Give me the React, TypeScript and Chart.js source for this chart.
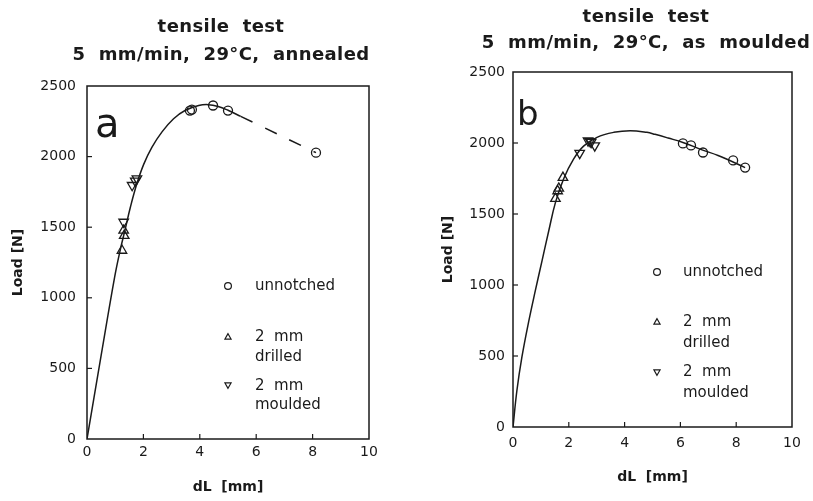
import React, { useEffect, useRef } from 'react';
import { Chart, registerables } from 'chart.js';

Chart.register(...registerables);

const FONT = "'DejaVu Sans', sans-serif";
const INK = '#1a1a1a';

// shared axes
const xTickValues = [0, 2, 4, 6, 8, 10];
const yTickValues = [0, 500, 1000, 1500, 2000, 2500];
const xAxisTitle = 'dL  [mm]';
const yAxisTitle = 'Load [N]';
const legendLabels = [['unnotched'], ['2  mm', 'drilled'], ['2  mm', 'moulded']];

// panel a: annealed
const titleA = ['tensile  test', '5  mm/min,  29°C,  annealed'];
const curveA: [number, number][] = [
  [0, 0], [0.5, 590], [0.98, 1147], [1.18, 1340], [1.36, 1490], [1.54, 1643], [1.77, 1809],
  [2.01, 1945], [2.3, 2065], [2.66, 2175], [3.07, 2268], [3.49, 2328], [3.96, 2362],
  [4.3, 2368], [4.65, 2355], [5.0, 2328], [5.45, 2285], [8.12, 2028],
];
const unnotchedA: [number, number][] = [[3.65, 2326], [3.72, 2333], [4.47, 2362], [5.0, 2326], [8.12, 2028]];
const drilledA: [number, number][] = [[1.24, 1335], [1.3, 1477], [1.32, 1440]];
const mouldedA: [number, number][] = [[1.3, 1537], [1.6, 1797], [1.71, 1828], [1.77, 1844]];

// panel b: as moulded
const titleB = ['tensile  test', '5  mm/min,  29°C,  as  moulded'];
const curveB: [number, number][] = [
  [0, 0], [0.14, 257], [0.32, 493], [0.56, 740], [0.8, 960], [1.04, 1170], [1.28, 1380],
  [1.52, 1580], [1.82, 1750], [2.17, 1886], [2.53, 1978], [3.01, 2040], [3.61, 2075],
  [4.2, 2087], [4.8, 2075], [5.09, 2061], [5.56, 2035], [6.09, 2004], [6.8, 1950],
  [7.35, 1912], [8.32, 1827],
];
const unnotchedB: [number, number][] = [[6.09, 1997], [6.38, 1983], [6.81, 1933], [7.89, 1877], [8.32, 1827]];
const drilledB: [number, number][] = [[1.52, 1608], [1.6, 1662], [1.64, 1680], [1.79, 1756]];
const mouldedB: [number, number][] = [[2.39, 1929], [2.69, 2016], [2.76, 2012], [2.8, 2006], [2.93, 1981]];

type Panel = {
  left: number;
  width: number;
  letter: string;
  letterX: number;
  letterY: number;
  letterSize: number;
  title: string[];
  titleX: number;
  titleY: number[];
  padding: { top: number; right: number; bottom: number; left: number };
  yWidth: number;
  xHeight: number;
  yTickPad: number;
  xTickPad: number;
  xTitlePad: number;
  curve: [number, number][];
  dashFrom: number | null;
  unnotched: [number, number][];
  drilled: [number, number][];
  moulded: [number, number][];
  legSymX: number;
  legTextX: number;
  legSymY: number[];
  legTextY: number[][];
};

const panelA: Panel = {
  left: 0, width: 410, letter: 'a', letterX: 95, letterY: 137, letterSize: 40,
  title: titleA, titleX: 221, titleY: [27, 55],
  padding: { top: 86, right: 41, bottom: 0, left: 0 },
  yWidth: 87, xHeight: 62, yTickPad: 11, xTickPad: 5, xTitlePad: 5.6,
  curve: curveA, dashFrom: 5.4, unnotched: unnotchedA, drilled: drilledA, moulded: mouldedA,
  legSymX: 228, legTextX: 255, legSymY: [286, 337, 385], legTextY: [[286], [337, 357], [386, 405]],
};

const panelB: Panel = {
  left: 430, width: 383, letter: 'b', letterX: 87, letterY: 125, letterSize: 34,
  title: titleB, titleX: 216, titleY: [17, 43],
  padding: { top: 72, right: 21, bottom: 0, left: 0 },
  yWidth: 83, xHeight: 74, yTickPad: 8, xTickPad: 8, xTitlePad: 15.6,
  curve: curveB, dashFrom: null, unnotched: unnotchedB, drilled: drilledB, moulded: mouldedB,
  legSymX: 227, legTextX: 253, legSymY: [272, 322, 372], legTextY: [[272], [322, 343], [372, 393]],
};

const pts = (a: [number, number][]) => a.map(([x, y]) => ({ x, y }));

function drawSymbol(ctx: CanvasRenderingContext2D, kind: number, x: number, y: number, r: number) {
  ctx.beginPath();
  if (kind === 0) {
    ctx.arc(x, y, r, 0, Math.PI * 2);
  } else {
    const s = kind === 1 ? -1 : 1;
    ctx.moveTo(x, y + s * r);
    ctx.lineTo(x - r * 0.9, y - s * r * 0.6);
    ctx.lineTo(x + r * 0.9, y - s * r * 0.6);
    ctx.closePath();
  }
  ctx.stroke();
}

function buildConfig(p: Panel): any {
  const decor = {
    id: 'decor',
    afterDraw(chart: any) {
      const { ctx, chartArea: a, scales } = chart;
      const xs = scales.x;
      const ys = scales.y;
      ctx.save();
      ctx.strokeStyle = INK;
      ctx.lineWidth = 1.5;
      ctx.strokeRect(a.left, a.top, a.right - a.left, a.bottom - a.top);
      ctx.lineWidth = 1.2;
      xTickValues.slice(1, -1).forEach((v) => {
        const px = xs.getPixelForValue(v);
        ctx.beginPath();
        ctx.moveTo(px, a.bottom);
        ctx.lineTo(px, a.bottom - 5);
        ctx.stroke();
      });
      yTickValues.slice(1, -1).forEach((v) => {
        const py = ys.getPixelForValue(v);
        ctx.beginPath();
        ctx.moveTo(a.left, py);
        ctx.lineTo(a.left + 5, py);
        ctx.stroke();
      });
      // titles
      ctx.fillStyle = INK;
      ctx.textAlign = 'center';
      ctx.textBaseline = 'middle';
      ctx.font = `bold 18px ${FONT}`;
      (ctx as any).letterSpacing = '0.4px';
      p.title.forEach((t, i) => ctx.fillText(t, p.titleX, p.titleY[i]));
      (ctx as any).letterSpacing = '0px';
      // panel letter
      ctx.textAlign = 'left';
      ctx.textBaseline = 'alphabetic';
      ctx.font = `${p.letterSize}px ${FONT}`;
      ctx.fillText(p.letter, p.letterX, p.letterY);
      // legend
      ctx.textBaseline = 'middle';
      ctx.font = `15px ${FONT}`;
      ctx.lineWidth = 1.2;
      legendLabels.forEach((lines, i) => {
        drawSymbol(ctx, i, p.legSymX, p.legSymY[i], 3.4);
        lines.forEach((t, j) => ctx.fillText(t, p.legTextX, p.legTextY[i][j]));
      });
      ctx.restore();
    },
  };

  const tickFont = { family: FONT, size: 14 };
  const titleFont = { family: FONT, size: 14, weight: 'bold' as const };
  const plain = (v: any) => String(v);

  return {
    type: 'scatter',
    data: {
      datasets: [
        {
          label: 'curve',
          data: pts(p.curve),
          showLine: true,
          borderColor: INK,
          borderWidth: 1.5,
          pointRadius: 0,
          tension: 0.4,
          segment: {
            borderDash: (c: any) =>
              p.dashFrom !== null && c.p0.parsed.x >= p.dashFrom ? [13, 14] : undefined,
          },
        },
        {
          label: 'unnotched',
          data: pts(p.unnotched),
          pointStyle: 'circle',
          pointRadius: 4.5,
          borderColor: INK,
          backgroundColor: 'rgba(0,0,0,0)',
          borderWidth: 1.3,
        },
        {
          label: '2 mm drilled',
          data: pts(p.drilled),
          pointStyle: 'triangle',
          pointRadius: 5.5,
          borderColor: INK,
          backgroundColor: 'rgba(0,0,0,0)',
          borderWidth: 1.3,
        },
        {
          label: '2 mm moulded',
          data: pts(p.moulded),
          pointStyle: 'triangle',
          rotation: 180,
          pointRadius: 5.5,
          borderColor: INK,
          backgroundColor: 'rgba(0,0,0,0)',
          borderWidth: 1.3,
        },
      ],
    },
    options: {
      animation: false,
      responsive: false,
      maintainAspectRatio: false,
      layout: { padding: p.padding },
      plugins: { legend: { display: false }, tooltip: { enabled: false }, title: { display: false } },
      scales: {
        x: {
          type: 'linear',
          min: 0,
          max: 10,
          afterBuildTicks: (s: any) => { s.ticks = xTickValues.map((v) => ({ value: v })); },
          ticks: { padding: p.xTickPad, color: INK, font: tickFont, maxRotation: 0, autoSkip: false, callback: plain },
          grid: { display: false, drawTicks: false },
          border: { display: false },
          title: { display: true, text: xAxisTitle, color: INK, font: titleFont, padding: { top: 0, bottom: p.xTitlePad } },
          afterFit: (s: any) => { s.height = p.xHeight; },
        },
        y: {
          type: 'linear',
          min: 0,
          max: 2500,
          afterBuildTicks: (s: any) => { s.ticks = yTickValues.map((v) => ({ value: v })); },
          ticks: { padding: p.yTickPad, color: INK, font: tickFont, autoSkip: false, callback: plain },
          grid: { display: false, drawTicks: false },
          border: { display: false },
          title: { display: true, text: yAxisTitle, color: INK, font: titleFont, padding: { top: 10, bottom: 0 } },
          afterFit: (s: any) => { s.width = p.yWidth; },
        },
      },
    },
    plugins: [decor],
  };
}

function PanelChart({ p }: { p: Panel }) {
  const ref = useRef<HTMLCanvasElement>(null);
  useEffect(() => {
    const chart = new Chart(ref.current as HTMLCanvasElement, buildConfig(p));
    return () => chart.destroy();
  }, [p]);
  return (
    <canvas
      ref={ref}
      width={p.width}
      height={501}
      style={{ position: 'absolute', left: p.left, top: 0, width: p.width, height: 501 }}
    />
  );
}

export default function App() {
  return (
    <div style={{ position: 'absolute', left: 0, top: 0, width: 813, height: 501, background: '#fff', overflow: 'hidden' }}>
      <PanelChart p={panelA} />
      <PanelChart p={panelB} />
    </div>
  );
}
